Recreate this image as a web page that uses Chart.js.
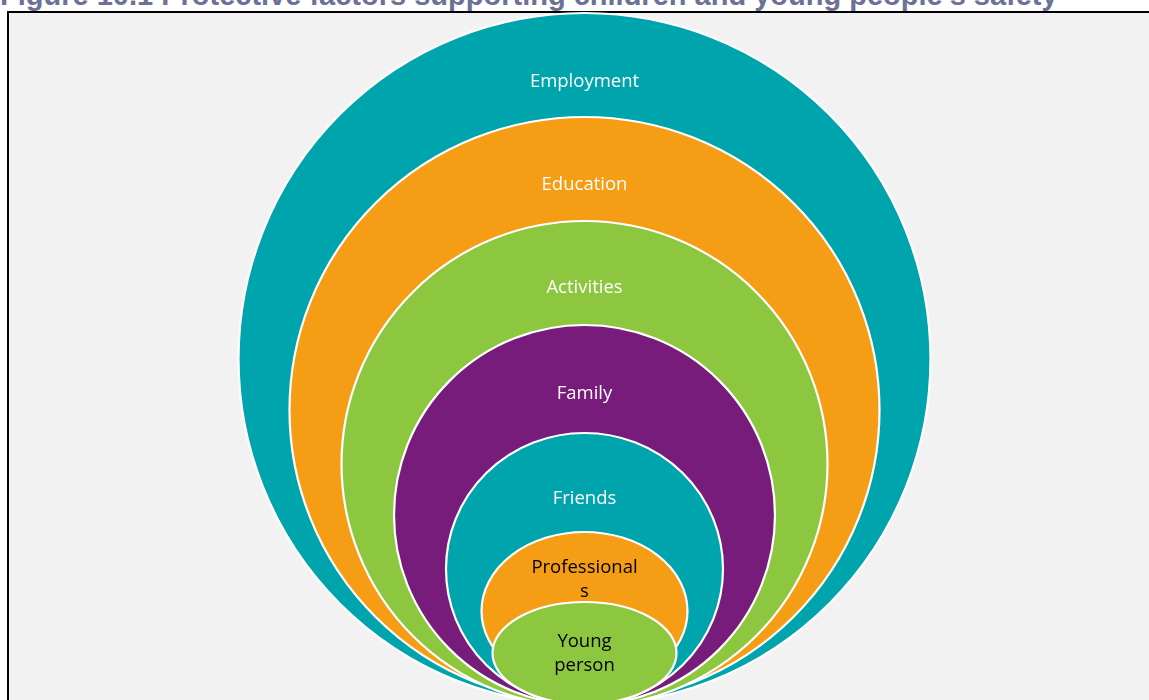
<!DOCTYPE html>
<html>
<head>
<meta charset="utf-8">
<script src="https://cdn.jsdelivr.net/npm/chart.js@4"></script>
<style>
  html, body { margin:0; padding:0; background:#ffffff; width:1149px; height:700px; overflow:hidden; }
  #title { position:absolute; left:0px; top:-19px; font:bold 29px "Liberation Sans", Arial, sans-serif; line-height:29px; color:#6d7196; white-space:nowrap; }
  #box { position:absolute; left:7px; top:11px; width:1300px; height:900px; border:2px solid #000; background:#f2f2f2; }
  #c { position:absolute; left:0; top:0; }
</style>
</head>
<body>
<div id="title">Figure 10.1 Protective factors supporting children and young people’s safety</div>
<div id="box"></div>
<canvas id="c" width="1149" height="700"></canvas>
<script>
// Layers of protective factors, outermost first
const layers = ['Employment', 'Education', 'Activities', 'Family', 'Friends', 'Professionals', 'Young person'];
const labelLines = [['Employment'], ['Education'], ['Activities'], ['Family'], ['Friends'], ['Professional', 's'], ['Young', 'person']];
// Ellipse sizes (data units)
const radiusX = [346, 295, 243, 190.5, 138.5, 103, 92];
const radiusY = [346, 293, 243, 190, 136, 79, 51];
const centerY = [346, 295, 241, 190, 136, 94, 52];
const centerX = [0, 0, 0, 0, 0, 0, 0];

const fillColors = ['#00A4AC', '#F59D14', '#8DC63F', '#781C7B', '#00A4AC', '#F59D14', '#8DC63F'];
const textColors = ['#ffffff', '#ffffff', '#ffffff', '#ffffff', '#ffffff', '#000000', '#000000'];
const labelOffsets = [69, 68, 67, 69, 66, 48, 52]; // px from top of each shape to label centre

const ellipsePlugin = {
  id: 'nestedEllipses',
  afterDatasetsDraw(chart) {
    const ctx = chart.ctx;
    const xs = chart.scales.x, ys = chart.scales.y;
    ctx.save();
    layers.forEach((name, i) => {
      const cx = xs.getPixelForValue(centerX[i]);
      const cy = ys.getPixelForValue(centerY[i]);
      const rx = Math.abs(xs.getPixelForValue(centerX[i] + radiusX[i]) - cx);
      const ry = Math.abs(ys.getPixelForValue(centerY[i] + radiusY[i]) - cy);
      ctx.beginPath();
      ctx.ellipse(cx, cy, rx, ry, 0, 0, Math.PI * 2);
      ctx.fillStyle = fillColors[i];
      ctx.fill();
      ctx.lineWidth = 2.2;
      ctx.strokeStyle = '#ffffff';
      ctx.stroke();
    });
    ctx.textAlign = 'center';
    ctx.textBaseline = 'middle';
    ctx.font = '18.5px "Open Sans", "Noto Sans", sans-serif';
    layers.forEach((name, i) => {
      const cx = xs.getPixelForValue(centerX[i]);
      const top = ys.getPixelForValue(centerY[i] + radiusY[i]);
      const mid = top + labelOffsets[i];
      const lines = labelLines[i];
      const lh = 24;
      ctx.fillStyle = textColors[i];
      lines.forEach((t, k) => {
        ctx.fillText(t, cx, mid + (k - (lines.length - 1) / 2) * lh);
      });
    });
    ctx.restore();
  }
};

new Chart(document.getElementById('c'), {
  type: 'scatter',
  data: {
    labels: layers,
    datasets: [{
      label: 'Layers',
      data: layers.map((n, i) => ({ x: centerX[i], y: centerY[i] })),
      pointRadius: 0,
      pointHoverRadius: 0
    }]
  },
  options: {
    responsive: false,
    animation: false,
    layout: { padding: 0 },
    plugins: { legend: { display: false }, tooltip: { enabled: false } },
    scales: {
      x: { type: 'linear', display: false, min: -584.5, max: 564.5 },
      y: { type: 'linear', display: false, min: 5, max: 705 }
    }
  },
  plugins: [ellipsePlugin]
});
</script>
</body>
</html>
